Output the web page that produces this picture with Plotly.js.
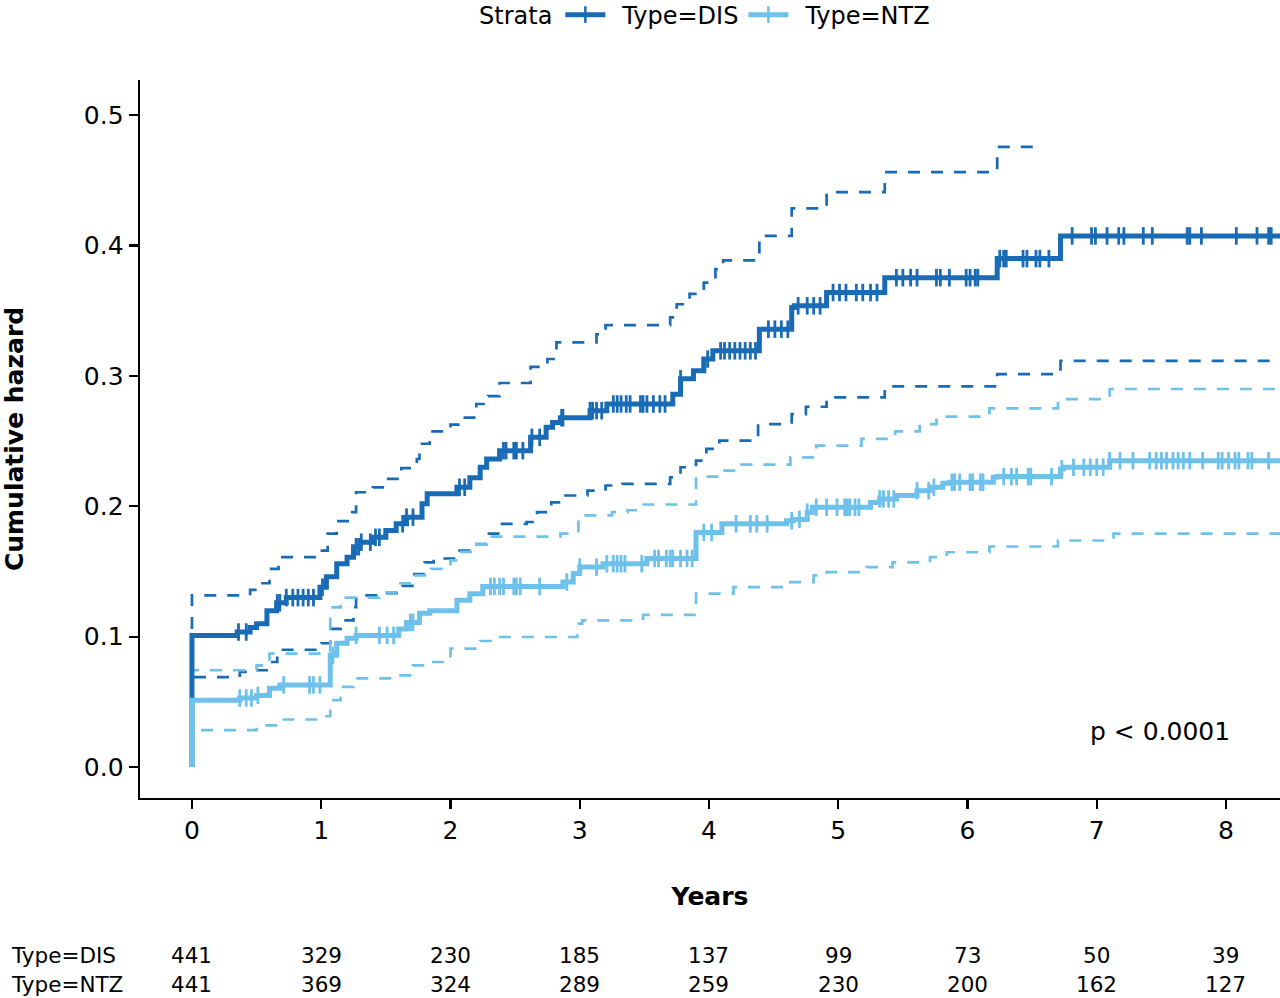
<!DOCTYPE html>
<html>
<head>
<meta charset="utf-8">
<script src="https://cdn.plot.ly/plotly-3.0.1.min.js"></script>
<style>
  html, body { margin: 0; padding: 0; background: #ffffff; }
  #chart { width: 1280px; height: 998px; }
</style>
</head>
<body>
<div id="chart"></div>
<script>
// Cumulative hazard steps (years, hazard)
var disTime = [0, 0, 0.35, 0.45, 0.5, 0.58, 0.655, 0.73, 0.99, 1.04, 1.12, 1.2, 1.25, 1.3, 1.4, 1.5, 1.58, 1.66, 1.78, 1.82, 2.05, 2.15, 2.23, 2.28, 2.38, 2.62, 2.74, 2.79, 2.85, 3.08, 3.21, 3.72, 3.78, 3.88, 3.96, 4.03, 4.39, 4.64, 4.66, 4.91, 5.36, 6.23, 6.72, 8.45];
var disHaz = [0, 0.101, 0.1036, 0.107, 0.110, 0.120, 0.126, 0.130, 0.138, 0.146, 0.156, 0.161, 0.169, 0.1725, 0.1763, 0.1815, 0.1866, 0.1917, 0.2019, 0.2096, 0.2146, 0.222, 0.230, 0.2363, 0.2427, 0.2529, 0.2606, 0.2644, 0.268, 0.2734, 0.2785, 0.286, 0.2978, 0.304, 0.313, 0.3193, 0.3359, 0.3525, 0.3538, 0.364, 0.3754, 0.390, 0.4074, 0.4074];

var disUpTime = [0, 0, 0.45, 0.53, 0.6, 0.67, 0.99, 1.05, 1.12, 1.24, 1.27, 1.4, 1.5, 1.62, 1.74, 1.76, 1.84, 2.0, 2.1, 2.2, 2.29, 2.38, 2.62, 2.75, 2.82, 3.13, 3.2, 3.7, 3.75, 3.85, 3.96, 4.05, 4.11, 4.39, 4.64, 4.91, 5.36, 6.23, 6.56];
var disUp = [0, 0.1317, 0.136, 0.141, 0.152, 0.161, 0.166, 0.179, 0.1886, 0.1955, 0.2108, 0.2146, 0.221, 0.2293, 0.2363, 0.248, 0.2575, 0.2626, 0.268, 0.2785, 0.2846, 0.2946, 0.307, 0.313, 0.3257, 0.332, 0.339, 0.345, 0.355, 0.363, 0.3716, 0.382, 0.3887, 0.4074, 0.4285, 0.441, 0.4563, 0.4757, 0.4757];

var disLoTime = [0, 0, 0.37, 0.47, 0.59, 0.66, 1.0, 1.07, 1.15, 1.25, 1.27, 1.5, 1.63, 1.72, 1.8, 1.87, 2.07, 2.17, 2.28, 2.38, 2.59, 2.67, 2.78, 2.89, 3.06, 3.2, 3.33, 3.7, 3.78, 3.9, 3.98, 4.08, 4.38, 4.64, 4.75, 4.91, 5.36, 6.23, 6.72, 8.45];
var disLo = [0, 0.069, 0.073, 0.0743, 0.0806, 0.090, 0.095, 0.106, 0.1125, 0.1227, 0.1317, 0.1335, 0.139, 0.148, 0.157, 0.16, 0.166, 0.171, 0.179, 0.1866, 0.188, 0.1955, 0.203, 0.2083, 0.212, 0.216, 0.2172, 0.2223, 0.230, 0.235, 0.244, 0.2504, 0.263, 0.2708, 0.2764, 0.2836, 0.292, 0.3014, 0.3116, 0.3116];

var ntzTime = [0, 0, 0.37, 0.5, 0.6, 0.68, 1.07, 1.12, 1.2, 1.27, 1.6, 1.66, 1.76, 1.84, 2.05, 2.15, 2.25, 2.87, 2.95, 3.0, 3.18, 3.52, 3.9, 4.1, 4.6, 4.65, 4.76, 4.8, 5.25, 5.32, 5.45, 5.61, 5.71, 5.81, 5.86, 6.2, 6.23, 6.72, 6.74, 7.1, 8.45];
var ntzHaz = [0, 0.0513, 0.053, 0.055, 0.0605, 0.063, 0.0857, 0.095, 0.0988, 0.101, 0.106, 0.111, 0.118, 0.120, 0.128, 0.133, 0.1386, 0.142, 0.1485, 0.1534, 0.156, 0.160, 0.180, 0.1866, 0.189, 0.19, 0.1955, 0.1993, 0.203, 0.2057, 0.2083, 0.212, 0.2146, 0.2177, 0.2185, 0.2223, 0.2228, 0.2287, 0.23, 0.235, 0.235];

var ntzUpTime = [0, 0, 0.5, 0.6, 1.07, 1.15, 1.45, 1.6, 1.72, 1.85, 2.0, 2.07, 2.2, 2.28, 2.85, 2.99, 3.25, 3.37, 3.48, 3.9, 4.12, 4.25, 4.63, 4.83, 5.18, 5.44, 5.63, 5.76, 6.17, 6.7, 7.1, 8.45];
var ntzUp = [0, 0.0743, 0.078, 0.087, 0.1225, 0.130, 0.134, 0.141, 0.147, 0.152, 0.1585, 0.165, 0.171, 0.1768, 0.179, 0.193, 0.1955, 0.197, 0.2014, 0.2228, 0.2274, 0.232, 0.2376, 0.2466, 0.2517, 0.2575, 0.263, 0.2688, 0.2751, 0.2823, 0.290, 0.290];

var ntzLoTime = [0, 0, 0.5, 0.66, 0.99, 1.07, 1.15, 1.25, 1.6, 1.71, 1.85, 2.0, 2.23, 2.36, 2.98, 3.02, 3.49, 3.9, 4.19, 4.63, 4.81, 4.91, 5.22, 5.42, 5.71, 5.84, 6.17, 6.7, 7.13, 8.45];
var ntzLo = [0, 0.0283, 0.032, 0.0365, 0.039, 0.0513, 0.0615, 0.068, 0.0704, 0.078, 0.0806, 0.0909, 0.0967, 0.0998, 0.110, 0.1125, 0.1167, 0.133, 0.138, 0.1419, 0.147, 0.1495, 0.1534, 0.157, 0.161, 0.1648, 0.1692, 0.1738, 0.179, 0.179];

// Censoring times (tick marks on the curves)
var disCensor = [0.36, 0.42, 0.66, 0.68, 0.73, 0.78, 0.82, 0.86, 0.9, 0.94, 1.01, 1.27, 1.29, 1.31, 1.38, 1.42, 1.45, 1.63, 1.66, 1.71, 2.07, 2.11, 2.41, 2.43, 2.49, 2.51, 2.56, 2.63, 2.69, 2.86, 2.87, 3.08, 3.1, 3.13, 3.17, 3.26, 3.29, 3.32, 3.36, 3.39, 3.47, 3.49, 3.52, 3.57, 3.62, 3.66, 3.78, 3.99, 4.09, 4.12, 4.16, 4.2, 4.24, 4.28, 4.32, 4.36, 4.46, 4.51, 4.56, 4.61, 4.69, 4.76, 4.81, 4.86, 4.96, 5.01, 5.06, 5.14, 5.19, 5.25, 5.3, 5.45, 5.5, 5.56, 5.61, 5.76, 5.79, 5.86, 5.99, 6.02, 6.06, 6.08, 6.25, 6.28, 6.3, 6.43, 6.46, 6.53, 6.56, 6.63, 6.81, 6.96, 6.99, 7.08, 7.17, 7.21, 7.36, 7.43, 7.7, 7.72, 7.81, 8.08, 8.24, 8.33, 8.35];
var ntzCensor = [0.37, 0.42, 0.46, 0.51, 0.71, 0.91, 0.94, 0.99, 1.09, 1.27, 1.45, 1.51, 1.56, 1.69, 1.71, 2.31, 2.34, 2.38, 2.41, 2.49, 2.51, 2.54, 2.69, 2.9, 3.0, 3.13, 3.21, 3.26, 3.29, 3.32, 3.35, 3.48, 3.58, 3.61, 3.67, 3.7, 3.72, 3.78, 3.83, 3.87, 3.96, 4.02, 4.21, 4.32, 4.37, 4.45, 4.64, 4.7, 4.76, 4.83, 4.91, 4.99, 5.05, 5.07, 5.09, 5.13, 5.16, 5.32, 5.35, 5.39, 5.43, 5.61, 5.7, 5.74, 5.88, 5.9, 5.94, 6.02, 6.04, 6.1, 6.12, 6.28, 6.34, 6.38, 6.47, 6.49, 6.65, 6.73, 6.82, 6.9, 6.95, 7.0, 7.05, 7.1, 7.18, 7.28, 7.41, 7.46, 7.5, 7.54, 7.59, 7.63, 7.67, 7.72, 7.82, 7.94, 7.97, 8.02, 8.07, 8.1, 8.17, 8.2, 8.33];

// Number at risk table
var riskYears = [0, 1, 2, 3, 4, 5, 6, 7, 8];
var disRisk = [441, 329, 230, 185, 137, 99, 73, 50, 39];
var ntzRisk = [441, 369, 324, 289, 259, 230, 200, 162, 127];
var strataNames = ['Type=DIS', 'Type=NTZ'];

var disColor = '#1A6BB5';
var ntzColor = '#6EC1EB';
var fontFam = 'DejaVu Sans, Liberation Sans, Arial, sans-serif';

function stepValue( times, values, t ) {
    var v = values[ 0 ];
    for ( var i = 0; i < times.length; i++ ) {
        if ( times[ i ] <= t ) {
            v = values[ i ];
        } else {
            break;
        }
    }
    return v;
}

function stepLine( times, values, color, width, dash ) {
    return {
        x: times, y: values, type: 'scatter', mode: 'lines',
        line: { color: color, width: width, shape: 'hv', dash: dash },
        showlegend: false, hoverinfo: 'skip'
    };
}

function censorMarks( censor, times, values, color ) {
    var ys = censor.map(function( t ) { return stepValue( times, values, t ); });
    return {
        x: censor, y: ys, type: 'scatter', mode: 'markers',
        marker: { symbol: 'line-ns', size: 12.5, line: { color: color, width: 2.8 } },
        showlegend: false, hoverinfo: 'skip'
    };
}

function legendEntry( name, color ) {
    // leading en-space gives the gap between key and label seen in the original
    return {
        x: [ null ], y: [ null ], type: 'scatter', mode: 'lines+markers', name: '\u2002' + name,
        line: { color: color, width: 5 },
        marker: { symbol: 'line-ns', size: 12, line: { color: color, width: 2.5 } }
    };
}

var dash = '12px,11px';
var data = [
    stepLine( disUpTime, disUp, disColor, 2.7, dash ),
    stepLine( disLoTime, disLo, disColor, 2.7, dash ),
    stepLine( ntzUpTime, ntzUp, ntzColor, 2.7, dash ),
    stepLine( ntzLoTime, ntzLo, ntzColor, 2.7, dash ),
    stepLine( disTime, disHaz, disColor, 5, 'solid' ),
    censorMarks( disCensor, disTime, disHaz, disColor ),
    stepLine( ntzTime, ntzHaz, ntzColor, 5, 'solid' ),
    censorMarks( ntzCensor, ntzTime, ntzHaz, ntzColor ),
    legendEntry( strataNames[ 0 ], disColor ),
    legendEntry( strataNames[ 1 ], ntzColor )
];

var annotations = [{
    x: 7.49, y: 0.0276, xref: 'x', yref: 'y', text: 'p < 0.0001', showarrow: false,
    font: { family: fontFam, size: 25, color: '#000000' }
}];

// risk table rows below the axis
var rowY = [ -0.2187, -0.2591 ];
var rows = [ disRisk, ntzRisk ];
for ( var r = 0; r < rows.length; r++ ) {
    annotations.push({
        x: -0.1148, y: rowY[ r ], xref: 'paper', yref: 'paper', xanchor: 'left', yanchor: 'middle',
        text: strataNames[ r ], showarrow: false,
        font: { family: fontFam, size: 21.5, color: '#000000' }
    });
    for ( var i = 0; i < riskYears.length; i++ ) {
        annotations.push({
            x: riskYears[ i ], y: rowY[ r ], xref: 'x', yref: 'paper', xanchor: 'center', yanchor: 'middle',
            text: String( rows[ r ][ i ] ), showarrow: false,
            font: { family: fontFam, size: 21.5, color: '#000000' }
        });
    }
}

var layout = {
    width: 1280, height: 998,
    margin: { l: 140, r: 0, t: 80, b: 200, autoexpand: false },
    paper_bgcolor: '#ffffff', plot_bgcolor: '#ffffff',
    font: { family: fontFam, color: '#000000' },
    showlegend: true,
    legend: {
        orientation: 'h', x: 0.4965, xanchor: 'center', y: 1.1218, yanchor: 'top',
        title: { text: 'Strata', font: { family: fontFam, size: 24 } },
        font: { family: fontFam, size: 24 },
        bgcolor: 'rgba(0,0,0,0)', itemwidth: 40
    },
    xaxis: {
        range: [ -0.402, 8.418 ], tickvals: riskYears, ticks: 'outside', ticklen: 9, tickwidth: 2.2, tickcolor: '#000000',
        showline: true, linewidth: 2.4, linecolor: '#000000', showgrid: false, zeroline: false,
        tickfont: { family: fontFam, size: 25, color: '#000000' },
        title: { text: '<b>Years</b>', font: { family: fontFam, size: 25 }, standoff: 43 }
    },
    yaxis: {
        range: [ -0.0237, 0.527 ], tickvals: [ 0, 0.1, 0.2, 0.3, 0.4, 0.5 ], tickformat: '.1f',
        ticks: 'outside', ticklen: 9, tickwidth: 2.2, tickcolor: '#000000',
        showline: true, linewidth: 2.4, linecolor: '#000000', showgrid: false, zeroline: false,
        tickfont: { family: fontFam, size: 25, color: '#000000' },
        title: { text: '<b>Cumulative hazard</b>', font: { family: fontFam, size: 25 }, standoff: 55 }
    },
    annotations: annotations
};

Plotly.newPlot( 'chart', data, layout, { displayModeBar: false, staticPlot: true } );
</script>
</body>
</html>
